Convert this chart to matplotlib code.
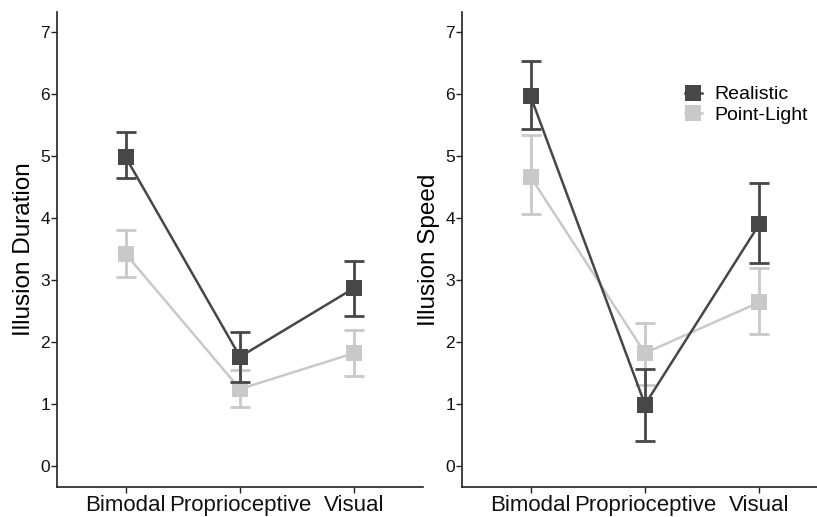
import matplotlib
matplotlib.use("Agg")
import matplotlib.pyplot as plt
from matplotlib.lines import Line2D

plt.rcParams['font.family'] = ['Liberation Sans', 'DejaVu Sans']

categories = ["Bimodal", "Proprioceptive", "Visual"]
yticks = [0, 1, 2, 3, 4, 5, 6, 7]
series_names = ["Realistic", "Point-Light"]

# Illusion Duration
dur_realistic = [4.98, 1.76, 2.87]
dur_realistic_lo = [4.65, 1.35, 2.42]
dur_realistic_hi = [5.38, 2.16, 3.31]
dur_point = [3.42, 1.24, 1.82]
dur_point_lo = [3.04, 0.95, 1.45]
dur_point_hi = [3.80, 1.55, 2.19]

# Illusion Speed
spd_realistic = [5.96, 0.99, 3.90]
spd_realistic_lo = [5.43, 0.40, 3.28]
spd_realistic_hi = [6.53, 1.57, 4.56]
spd_point = [4.66, 1.82, 2.64]
spd_point_lo = [4.06, 1.31, 2.13]
spd_point_hi = [5.33, 2.31, 3.19]

dark = "#474747"
light = "#c9c9c9"

W, H = 817, 517
fig = plt.figure(figsize=(W / 100, H / 100), dpi=100)

def px_axes(x0, x1, ytop, ybot):
    return fig.add_axes([x0 / W, 1 - ybot / H, (x1 - x0) / W, (ybot - ytop) / H])

ax1 = px_axes(57, 423, 12, 487)
ax2 = px_axes(462, 828, 12, 487)

xpos = list(range(1, len(categories) + 1))

def draw(ax, means, lo, hi, color, z):
    yerr = [[m - l for m, l in zip(means, lo)], [h - m for m, h in zip(means, hi)]]
    ax.errorbar(xpos, means, yerr=yerr, color=color, fmt='none', elinewidth=2.0,
                capsize=7, capthick=2.0, zorder=z)
    ax.plot(xpos, means, color=color, lw=1.8, marker='s', markersize=11,
            markeredgewidth=0, zorder=z + 0.5)

for ax, data, ylab in [
    (ax1, [(dur_point, dur_point_lo, dur_point_hi, light, 2),
           (dur_realistic, dur_realistic_lo, dur_realistic_hi, dark, 3)], "Illusion Duration"),
    (ax2, [(spd_point, spd_point_lo, spd_point_hi, light, 2),
           (spd_realistic, spd_realistic_lo, spd_realistic_hi, dark, 3)], "Illusion Speed"),
]:
    for m, l, h, c, z in data:
        draw(ax, m, l, h, c, z)
    ax.set_xlim(0.4, 3.6)
    ax.set_ylim(-0.34, 7.32)
    ax.set_xticks(xpos)
    ax.set_xticklabels(categories, fontsize=16)
    ax.set_yticks(yticks)
    ax.set_yticklabels([str(t) for t in yticks], fontsize=12.5)
    ax.set_ylabel(ylab, fontsize=17.5, labelpad=4)
    for s in ["top", "right"]:
        ax.spines[s].set_visible(False)
    for s in ["left", "bottom"]:
        ax.spines[s].set_linewidth(1.2)
        ax.spines[s].set_color("#222222")
    ax.tick_params(axis='both', direction='out', length=4, width=1.0, color="#222222",
                   labelcolor="#111111", pad=1)
    ax.tick_params(axis='x', pad=1.5)
    ax.set_facecolor('none')

handles = [
    Line2D([], [], color=dark, marker='s', markersize=11, markeredgewidth=0, lw=1.8),
    Line2D([], [], color=light, marker='s', markersize=11, markeredgewidth=0, lw=1.8),
]
fig.legend(handles, series_names, loc='upper left',
           bbox_to_anchor=(675 / W, 1 - 76 / H), frameon=False, fontsize=14,
           handlelength=0.9, handletextpad=0.6, labelspacing=0.15, borderpad=0)

fig.savefig("out.png", dpi=100)
